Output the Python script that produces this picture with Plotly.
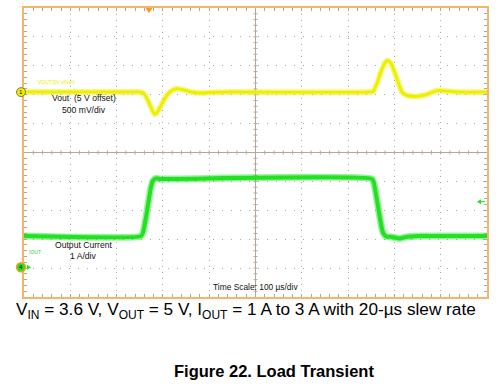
import plotly.graph_objects as go

# ---- data ----
# Time axis: 100 us/div, 10 divisions
time_range_us = [0, 1000]
# Vout deviation from 5 V (mV), 500 mV/div
vout_t_us = [0, 164, 250, 257, 263.5, 272, 278.6, 283, 289.4, 298, 309, 319.7, 330.5, 343.4, 358.5,
             380, 402, 445, 747, 754, 762.4, 771, 780, 784, 790.5, 799, 807.8, 816.4, 825, 844.5,
             866, 892, 916, 941.7, 1000]
vout_mv = [0, 0, 0, -10, -80, -220, -340, -383, -330, -200, -50, 30, 58, 40, 5,
           -14, -8, 0, 0, 10, 150, 350, 510, 545, 520, 380, 180, 0, -50, -75,
           -50, 25, 15, 0, 0]
# Output current (A), 1 A/div
iout_t_us = [0, 252.7, 257, 263.5, 270, 274.3, 278.6, 285, 293.7, 751.6, 755.9, 762.4, 769,
             775.4, 781.9, 794.8, 812, 822.5, 855, 1000]
iout_a = [1.0, 1.0, 1.12, 1.65, 2.3, 2.7, 2.92, 3.0, 2.98, 2.98, 2.82, 2.25, 1.6,
          1.12, 0.99, 0.97, 0.92, 0.96, 1.0, 1.0]

vout_axis_range = [-3545, 1455]   # mV over 10 div
iout_axis_range = [-1.107, 8.893]  # A over 10 div

SUB = '<sub><span style="font-size:12px">{}</span></sub>'
caption = ("V" + SUB.format("IN") + " = 3.6 V, V" + SUB.format("OUT") + " = 5 V, I" +
           SUB.format("OUT") + " = 1 A to 3 A with 20-µs slew rate")
fig_title = "Figure 22. Load Transient"

# ---- layout geometry ----
W, H = 500, 387
L, R, T, B = 24, 13, 6, 90
PW, PH = W - L - R, H - T - B

def px(x):
    return (x - L) / PW

def py(y):
    return (H - B - y) / PH

YEL = "#EEEE00"
GRN = "#22E022"
ORG = "#F2B56A"
GRID = "#A8A8A8"
CEN = "#B8A898"
FONT = "Liberation Sans, Arial, sans-serif"

fig = go.Figure()

# soft halo to mimic scope trace thickness
fig.add_trace(go.Scatter(x=vout_t_us, y=vout_mv, yaxis="y2", mode="lines",
                         line=dict(color="rgba(238,238,0,0.45)", width=6, shape="spline", smoothing=0.6),
                         hoverinfo="skip", showlegend=False))
fig.add_trace(go.Scatter(x=vout_t_us, y=vout_mv, yaxis="y2", mode="lines", name="Vout",
                         line=dict(color=YEL, width=3, shape="spline", smoothing=0.6),
                         showlegend=False))
fig.add_trace(go.Scatter(x=iout_t_us, y=iout_a, yaxis="y3", mode="lines",
                         line=dict(color="rgba(34,224,34,0.45)", width=7, shape="spline", smoothing=0.5),
                         hoverinfo="skip", showlegend=False))
fig.add_trace(go.Scatter(x=iout_t_us, y=iout_a, yaxis="y3", mode="lines", name="Iout",
                         line=dict(color=GRN, width=4, shape="spline", smoothing=0.5),
                         showlegend=False))

shapes = []
# center cross lines with minor ticks
shapes.append(dict(type="line", xref="x", yref="y", x0=500, x1=500, y0=0, y1=10,
                   line=dict(color=CEN, width=1), layer="below"))
shapes.append(dict(type="line", xref="x", yref="y", x0=0, x1=1000, y0=5, y1=5,
                   line=dict(color=CEN, width=1), layer="below"))
for k in range(1, 50):
    t = k * 20
    shapes.append(dict(type="line", xref="x", yref="y", x0=t, x1=t, y0=4.93, y1=5.07,
                       line=dict(color=CEN, width=1), layer="below"))
for k in range(1, 50):
    d = k * 0.2
    shapes.append(dict(type="line", xref="x", yref="y", x0=495.7, x1=504.3, y0=d, y1=d,
                       line=dict(color=CEN, width=1), layer="below"))

# channel markers
shapes.append(dict(type="circle", xref="paper", yref="paper",
                   x0=px(16.5), x1=px(25.5), y0=py(95.2), y1=py(86.2),
                   fillcolor=YEL, line=dict(color="#808040", width=1)))
shapes.append(dict(type="circle", xref="paper", yref="paper",
                   x0=px(16.5), x1=px(25.5), y0=py(271.5), y1=py(262.5),
                   fillcolor=GRN, line=dict(color="#F0A020", width=1.5)))
# ground arrow for channel 4
shapes.append(dict(type="path", xref="paper", yref="paper",
                   path=f"M {px(27)} {py(264.5)} L {px(31)} {py(267)} L {px(27)} {py(269.5)} Z",
                   fillcolor=GRN, line=dict(color=GRN, width=0)))
# trigger marker at top
shapes.append(dict(type="path", xref="paper", yref="paper",
                   path=f"M {px(145.5)} {py(6)} L {px(152.5)} {py(6)} L {px(149)} {py(11)} Z",
                   fillcolor="#F59A1A", line=dict(color="#F59A1A", width=0)))
# right trigger level arrow
shapes.append(dict(type="path", xref="paper", yref="paper",
                   path=f"M {px(477)} {py(201)} L {px(481)} {py(198.5)} L {px(481)} {py(203.5)} Z",
                   fillcolor=GRN, line=dict(color=GRN, width=0)))
shapes.append(dict(type="line", xref="paper", yref="paper",
                   x0=px(480), x1=px(485), y0=py(201), y1=py(201),
                   line=dict(color=GRN, width=1)))

ann = []
def text(x, y, s, size, color="#111111", xanchor="center", weight="normal"):
    ann.append(dict(x=px(x), y=py(y), xref="paper", yref="paper", text=s, showarrow=False,
                    xanchor=xanchor, yanchor="middle",
                    font=dict(family=FONT, size=size, color=color, weight=weight)))

text(21, 90.7, "1", 6)
text(21, 267, "4", 6)
text(36, 81, "VOUT(5V offset)", 5, color=YEL, xanchor="left")
text(27, 252, "IOUT", 5, color=GRN, xanchor="left")
text(83.5, 97, "Vout  (5 V offset)", 8.6)
text(83.5, 108.5, "500 mV/div", 8.6)
text(83.5, 245, "Output Current", 8.6)
text(83.5, 256, "1 A/div", 8.6)
text(255.5, 287, "Time Scale: 100 µs/div", 8.4)
text(245.5, 311, caption, 17.2, color="#000000")
text(274, 372, fig_title, 16.5, color="#000000", weight="bold")

axis_common = dict(showticklabels=False, zeroline=False, showline=True, linecolor=ORG,
                   linewidth=2, mirror="ticks", ticks="inside", ticklen=3, tickcolor="#B0A898",
                   showgrid=True, gridcolor=GRID, gridwidth=1, fixedrange=True)

fig.update_layout(
    width=W, height=H,
    margin=dict(l=L, r=R, t=T, b=B),
    paper_bgcolor="white", plot_bgcolor="white",
    xaxis=dict(range=time_range_us, dtick=100, tick0=0, griddash="1px,5px",
               minor=dict(dtick=20, ticks="inside", ticklen=3, tickcolor="#B0A898", showgrid=False),
               **axis_common),
    yaxis=dict(range=[0, 10], dtick=1, tick0=0, griddash="1px,8px",
               minor=dict(dtick=0.2, ticks="inside", ticklen=3, tickcolor="#B0A898", showgrid=False),
               **axis_common),
    yaxis2=dict(range=vout_axis_range, overlaying="y", visible=False, fixedrange=True),
    yaxis3=dict(range=iout_axis_range, overlaying="y", visible=False, fixedrange=True),
    shapes=shapes,
    annotations=ann,
    showlegend=False,
)

fig.write_html("out.html", config={"displayModeBar": False},
               post_script="document.body.style.margin='0';document.body.style.overflow='hidden';")
